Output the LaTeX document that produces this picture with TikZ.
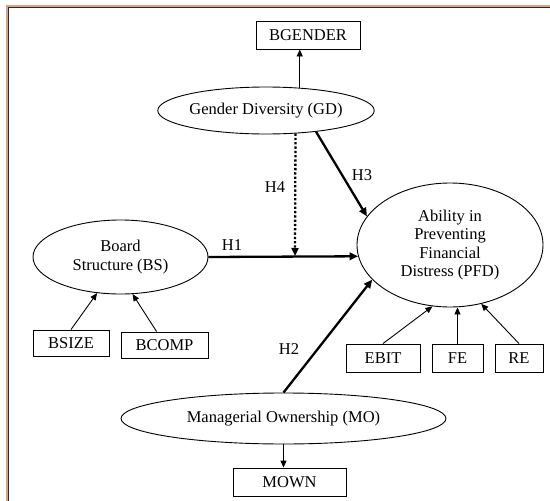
\documentclass[tikz,border=0pt]{standalone}
\usepackage{fontspec}
\setmainfont{Liberation Serif}
\usetikzlibrary{shapes.geometric,arrows.meta,calc}
\definecolor{framebrown}{RGB}{214,165,135}
\definecolor{framedark}{RGB}{55,40,30}
\tikzset{
  txt/.style={font=\fontsize{16.5}{18.5}\selectfont, align=center, inner sep=0pt},
  ell/.style={txt, draw, ellipse, line width=0.9pt},
  box/.style={txt, draw, rectangle, line width=0.9pt},
  thin/.style={line width=0.9pt, -{Triangle[length=7pt,width=6pt]}},
  thick/.style={line width=2.3pt, -{Triangle[length=8.5pt,width=7.5pt]}},
  dotline/.style={line width=2.3pt, dotted, -{Triangle[length=8pt,width=7pt]}},
  lab/.style={txt}
}
\begin{document}
\begin{tikzpicture}[x=1pt,y=-1pt]
\useasboundingbox (0,0) rectangle (550,501);
\fill[white] (0,0) rectangle (550,501);
% frame
\draw[framebrown, line width=2pt] (7,501) -- (7,6) -- (550,6);
\draw[framedark, line width=0.9pt] (8.6,501) -- (8.6,7.6) -- (550,7.6);

% nodes
\node[box, minimum width=104pt, minimum height=28pt] (BG) at (308,35) {BGENDER};
\node[ell, minimum width=190pt, minimum height=47pt] (GD) at (266,110.5) {Gender Diversity (GD)};
\node[ell, minimum width=175pt, minimum height=74pt] (BS) at (120.5,257) {Board\\Structure (BS)};
\node[ell, minimum width=186pt, minimum height=124pt] (PFD) at (450,245) {Ability in\\Preventing\\Financial\\Distress (PFD)};
\node[box, minimum width=76pt, minimum height=26pt] (BSIZE) at (71,343) {BSIZE};
\node[box, minimum width=87pt, minimum height=26pt] (BCOMP) at (164.5,345) {BCOMP};
\node[box, minimum width=74pt, minimum height=28pt] (EBIT) at (383,358) {EBIT};
\node[box, minimum width=51pt, minimum height=28pt] (FE) at (457.5,358) {FE};
\node[box, minimum width=48pt, minimum height=28pt] (RE) at (519,358) {RE};
\node[ell, minimum width=325pt, minimum height=51pt] (MO) at (283.5,418.5) {Managerial Ownership (MO)};
\node[box, minimum width=113pt, minimum height=28pt] (MOWN) at (289.5,482) {MOWN};

% labels
\node[lab] (H1) at (232,245) {H1};
\node[lab] (H4) at (275,187) {H4};
\node[lab] (H3) at (362,175) {H3};
\node[lab] (H2) at (289,349) {H2};

% connectors
\draw[thin] (GD.34.6) -- (GD.34.6 |- BG.south);
\draw[thin] (BSIZE.north) -- (BS.237.5);
\draw[thin] ($(BCOMP.north west)!0.41!(BCOMP.north east)$) -- (BS.288.6);
\draw[thin] (EBIT.north) -- (PFD.254);
\draw[thin] (FE.north) -- (FE.north |- PFD.south);
\draw[thin] (RE.north) -- (PFD.298);
\draw[thin] (MO.south) -- (MO.south |- MOWN.north);

\draw[thick] (BS.east) -- (PFD.187);
\draw[thick] (GD.337.9) -- (PFD.161);
\draw[thick] (MO.north) -- (PFD.204);
\coordinate (h4end) at (295,256);
\draw[dotline] (GD.322.3) -- (h4end);
\end{tikzpicture}
\end{document}
